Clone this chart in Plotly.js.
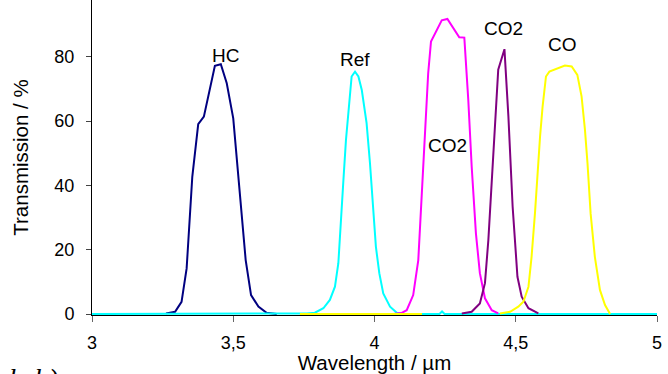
<!DOCTYPE html>
<html>
<head>
<meta charset="utf-8">
<script src="https://cdn.plot.ly/plotly-3.0.1.min.js"></script>
<style>html,body{margin:0;padding:0;background:#fff;}#chart{width:668px;height:374px;}</style>
</head>
<body>
<div id="chart"></div>
<script>
// HC filter (navy)
const hcX = [3.262, 3.294, 3.317, 3.335, 3.355, 3.376, 3.396, 3.435, 3.456, 3.477, 3.500, 3.521, 3.544, 3.563, 3.589, 3.618, 3.654];
const hcY = [0.2, 0.7, 3.8, 14.2, 42.7, 59.1, 61.4, 77.2, 77.7, 71.8, 60.9, 38.6, 16.8, 5.9, 2.3, 0.4, 0];

// Reference filter (cyan)
const refX = [3.0, 3.70, 3.76, 3.789, 3.819, 3.842, 3.860, 3.872, 3.880, 3.890, 3.899, 3.911, 3.919, 3.931, 3.943, 3.955, 3.972, 3.984, 3.996, 4.005, 4.017, 4.031, 4.055, 4.079, 4.108, 4.230, 4.239, 4.248, 5.0];
const refY = [0, 0, 0.2, 0.4, 1.8, 4.4, 8.5, 15.8, 26.1, 41.7, 54.2, 67.7, 73.9, 75.4, 73.9, 69.7, 59.4, 46.9, 31.3, 20.9, 12.7, 6.4, 2.3, 0.4, 0, 0, 0.8, 0, 0];

// CO filter (yellow); null = gap in the recorded curve
const coX = [3.736, 4.168, 4.169, 4.444, 4.480, 4.509, 4.527, 4.545, 4.556, 4.568, 4.577, 4.586, 4.595, 4.607, 4.619, 4.645, 4.674, 4.698, 4.718, 4.733, 4.745, 4.754, 4.765, 4.780, 4.798, 4.816, 4.834];
const coY = [0, 0, null, 0.2, 0.7, 2.3, 3.8, 8.5, 17.8, 31.3, 44.8, 55.2, 64.5, 73.9, 75.4, 76.2, 77.3, 77.0, 74.4, 67.7, 57.3, 46.9, 31.3, 17.8, 7.5, 2.8, 0];

// CO2 filter, wide (magenta)
const co2aX = [4.066, 4.095, 4.114, 4.137, 4.155, 4.167, 4.179, 4.190, 4.200, 4.214, 4.238, 4.258, 4.279, 4.300, 4.318, 4.332, 4.344, 4.359, 4.373, 4.391, 4.415, 4.438];
const co2aY = [0, 0.3, 1.2, 5.9, 16.8, 35.5, 56.2, 74.9, 84.8, 87.4, 91.4, 91.8, 88.9, 86.1, 86.0, 66.6, 45.9, 25.1, 12.7, 4.9, 1.2, 0.2];

// CO2 filter, narrow (purple)
const co2bX = [4.309, 4.344, 4.373, 4.391, 4.403, 4.415, 4.427, 4.438, 4.460, 4.474, 4.489, 4.506, 4.521, 4.533, 4.545, 4.580];
const co2bY = [0.2, 0.7, 3.3, 9.6, 23.0, 40.7, 58.3, 76.0, 82.4, 61.4, 33.4, 11.6, 5.4, 3.8, 1.8, 0.2];

// Labels
const labelText = ["HC", "Ref", "CO2", "CO2", "CO"];
const labelX = [3.474, 3.930, 4.258, 4.456, 4.664];
const labelY = [80.5, 79.3, 52.4, 88.7, 84.0];

const xTickVals = [3, 3.5, 4, 4.5, 5];
const xTickText = ["3", "3,5", "4", "4,5", "5"];
const yTickVals = [0, 20, 40, 60, 80];

const font = "Arial, 'Liberation Sans', sans-serif";
const lw = 2;

const traces = [
  {x: hcX, y: hcY, mode: "lines", line: {color: "#000080", width: lw}},
  {x: refX, y: refY, mode: "lines", line: {color: "#00FFFF", width: lw}},
  {x: co2aX, y: co2aY, mode: "lines", line: {color: "#FF00FF", width: lw}},
  {x: co2bX, y: co2bY, mode: "lines", line: {color: "#800080", width: lw}},
  {x: coX, y: coY, mode: "lines", line: {color: "#FFFF00", width: lw}, connectgaps: false}
];

const annotations = labelText.map((t, i) => ({
  x: labelX[i], y: labelY[i], xref: "x", yref: "y", text: t, showarrow: false,
  font: {family: font, size: 19, color: "#000"}, xanchor: "center", yanchor: "middle"
}));
annotations.push({
  x: -0.15, y: -0.145, xref: "paper", yref: "paper", text: "<i>kel )</i>", showarrow: false,
  font: {family: "'Liberation Serif', 'Times New Roman', serif", size: 28, color: "#000"},
  xanchor: "left", yanchor: "top"
});

const layout = {
  width: 668, height: 374,
  margin: {l: 92, r: 11, t: 0, b: 59, pad: 0},
  paper_bgcolor: "#fff", plot_bgcolor: "#fff",
  showlegend: false,
  separators: ", ",
  font: {family: font, color: "#000"},
  xaxis: {
    range: [3, 5], tickvals: xTickVals, ticktext: xTickText,
    ticks: "outside", ticklen: 6, tickcolor: "#666", tickwidth: 1,
    showline: true, linecolor: "#000", linewidth: 1, showgrid: false, zeroline: false,
    tickfont: {family: font, size: 18, color: "#000"},
    ticklabelstandoff: 5,
    title: {text: "Wavelength / µm", font: {family: font, size: 20.5, color: "#000"}, standoff: 12},
    fixedrange: true
  },
  yaxis: {
    range: [-0.3, 97.7], tickvals: yTickVals,
    ticks: "outside", ticklen: 5, tickcolor: "#444", tickwidth: 1,
    showline: true, linecolor: "#000", linewidth: 1, showgrid: false, zeroline: false,
    tickfont: {family: font, size: 18, color: "#000"},
    ticklabelstandoff: 8,
    title: {text: "Transmission / %", font: {family: font, size: 20.5, color: "#000"}, standoff: 20},
    fixedrange: true
  },
  annotations: annotations
};

Plotly.newPlot("chart", traces, layout, {staticPlot: true, displayModeBar: false});
</script>
</body>
</html>
